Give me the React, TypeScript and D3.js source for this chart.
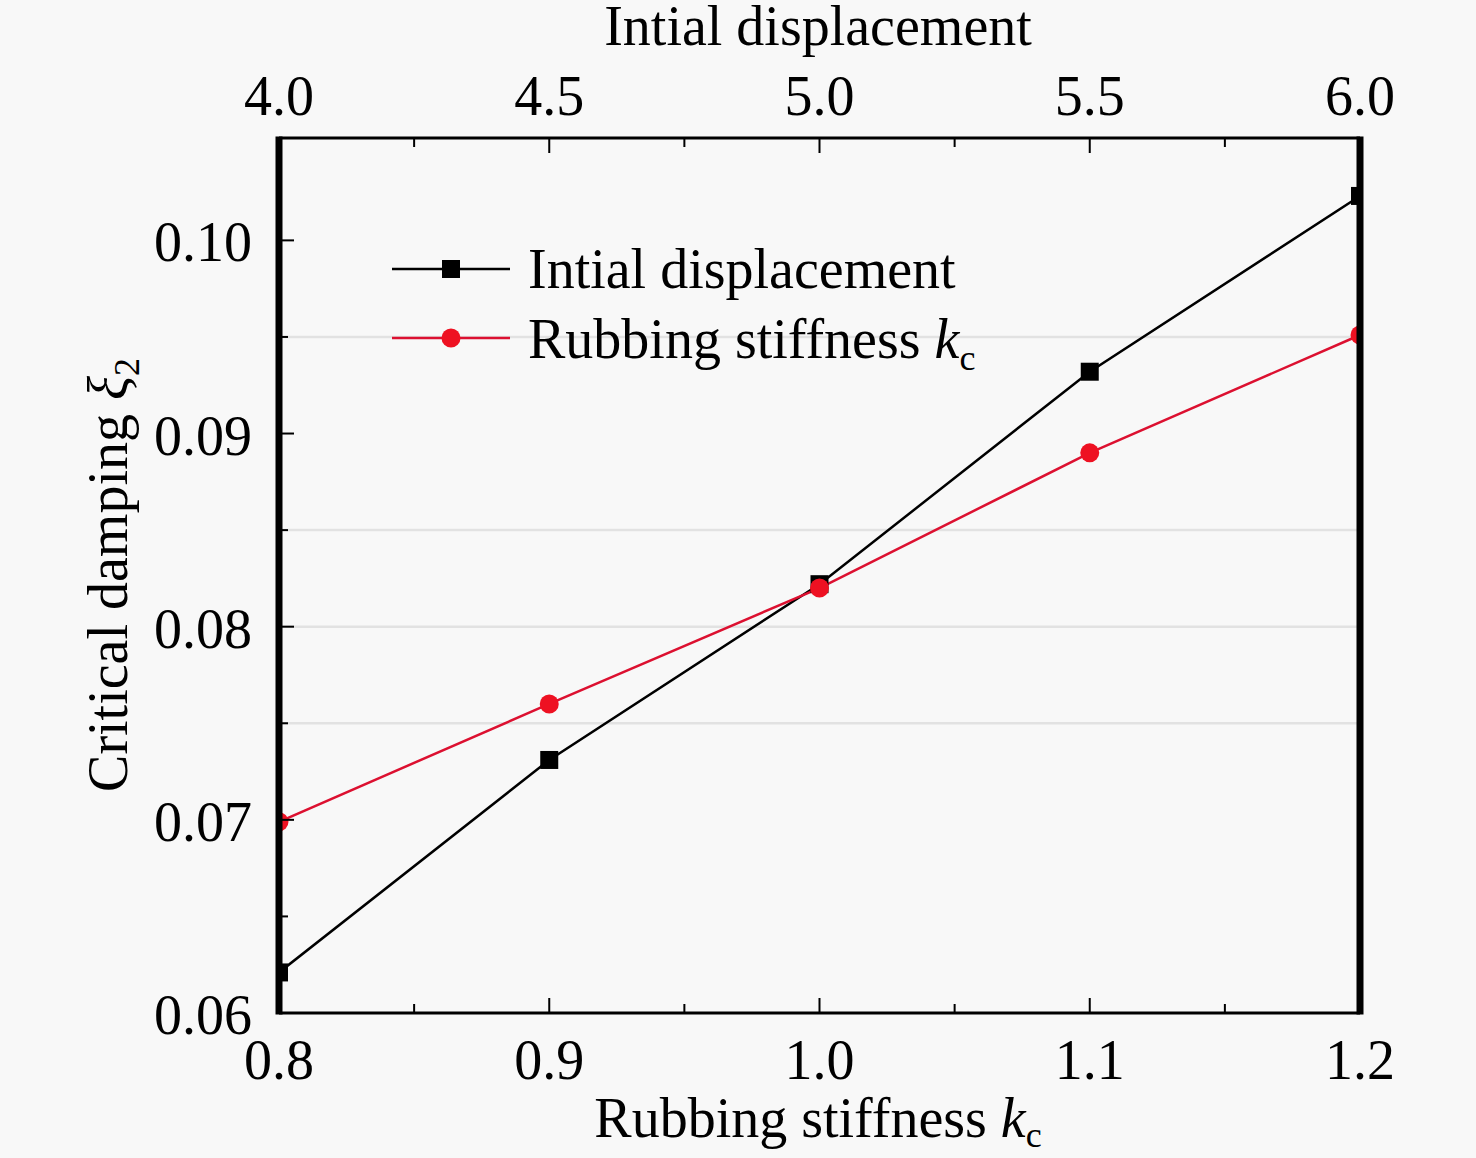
import React from 'react';
import * as d3 from 'd3';

const stiffness = [0.8, 0.9, 1.0, 1.1, 1.2];
const displacementTicks = [4.0, 4.5, 5.0, 5.5, 6.0];
const initialDisplacement = [0.0621, 0.0731, 0.0822, 0.0932, 0.1023];
const rubbingStiffness = [0.0699, 0.076, 0.082, 0.089, 0.0951];
const yTicks = [0.06, 0.07, 0.08, 0.09, 0.1];
const gridValues = [0.075, 0.08, 0.085, 0.095];

const W = 1476;
const H = 1158;
const left = 279;
const right = 1360;
const top = 138;
const bottom = 1013;
const font = '"Liberation Serif", "Times New Roman", serif';
const fs = 56;

const App = () => {
  const x = d3.scaleLinear().domain([0.8, 1.2]).range([left, right]);
  const xTop = d3.scaleLinear().domain([4.0, 6.0]).range([left, right]);
  const y = d3.scaleLinear().domain([0.06, 0.1053]).range([bottom, top]);

  const line = d3
    .line<number>()
    .x((_, i) => x(stiffness[i]))
    .y(d => y(d));

  const xMinor = d3.range(0.85, 1.2, 0.1);
  const topMinor = d3.range(4.25, 6.0, 0.5);
  const yMinor = d3.range(0.065, 0.105, 0.01);

  return (
    <svg
      width={W}
      height={H}
      style={{ position: 'absolute', left: 0, top: 0 }}
      fontFamily={font}>
      <rect width={W} height={H} fill="#f8f8f8" />
      <defs>
        <clipPath id="plot">
          <rect x={left} y={top} width={right - left} height={bottom - top} />
        </clipPath>
      </defs>
      {/* faint grid */}
      {gridValues.map((v, i) => (
        <line key={'g' + i} x1={left} x2={right} y1={y(v)} y2={y(v)} stroke="#e2e2e2" strokeWidth={2.5} />
      ))}
      {/* series */}
      <g clipPath="url(#plot)">
        <path d={line(initialDisplacement) as string} fill="none" stroke="#000" strokeWidth={2.5} />
        <path d={line(rubbingStiffness) as string} fill="none" stroke="#dc1030" strokeWidth={2.5} />
        {initialDisplacement.map((d, i) => (
          <rect key={'s' + i} x={x(stiffness[i]) - 9} y={y(d) - 9} width={18} height={18} fill="#000" />
        ))}
        {rubbingStiffness.map((d, i) => (
          <circle key={'c' + i} cx={x(stiffness[i])} cy={y(d)} r={9.5} fill="#ee1122" />
        ))}
      </g>
      {/* frame */}
      <line x1={left} x2={right} y1={top} y2={top} stroke="#000" strokeWidth={3} />
      <line x1={left} x2={right} y1={bottom} y2={bottom} stroke="#000" strokeWidth={3} />
      <line x1={left} x2={left} y1={top - 1.5} y2={bottom + 1.5} stroke="#000" strokeWidth={7} />
      <line x1={right} x2={right} y1={top - 1.5} y2={bottom + 1.5} stroke="#000" strokeWidth={7} />
      {/* bottom ticks */}
      {stiffness.map(v => (
        <g key={'bx' + v}>
          <line x1={x(v)} x2={x(v)} y1={bottom} y2={bottom - 15} stroke="#000" strokeWidth={2} />
          <text x={x(v)} y={1079} fontSize={fs} textAnchor="middle">{v.toFixed(1)}</text>
        </g>
      ))}
      {xMinor.map(v => (
        <line key={'bm' + v} x1={x(v)} x2={x(v)} y1={bottom} y2={bottom - 9} stroke="#000" strokeWidth={2} />
      ))}
      {/* top ticks */}
      {displacementTicks.map(v => (
        <g key={'tx' + v}>
          <line x1={xTop(v)} x2={xTop(v)} y1={top} y2={top + 15} stroke="#000" strokeWidth={2} />
          <text x={xTop(v)} y={115} fontSize={fs} textAnchor="middle">{v.toFixed(1)}</text>
        </g>
      ))}
      {topMinor.map(v => (
        <line key={'tm' + v} x1={xTop(v)} x2={xTop(v)} y1={top} y2={top + 9} stroke="#000" strokeWidth={2} />
      ))}
      {/* left ticks */}
      {yTicks.map(v => (
        <g key={'ly' + v}>
          <line x1={left} x2={left + 15} y1={y(v)} y2={y(v)} stroke="#000" strokeWidth={2} />
          <text x={252} y={y(v) + 21} fontSize={fs} textAnchor="end">{v.toFixed(2)}</text>
        </g>
      ))}
      {yMinor.map(v => (
        <line key={'lm' + v} x1={left} x2={left + 9} y1={y(v)} y2={y(v)} stroke="#000" strokeWidth={2} />
      ))}
      {/* axis titles */}
      <text x={818} y={45} fontSize={fs} textAnchor="middle">Intial displacement</text>
      <text x={818} y={1137} fontSize={fs} textAnchor="middle">
        Rubbing stiffness <tspan fontStyle="italic">k</tspan>
        <tspan fontSize={36} dy={10}>c</tspan>
      </text>
      <text transform="translate(127,575) rotate(-90)" fontSize={fs} textAnchor="middle">
        Critical damping <tspan fontStyle="italic">ξ</tspan>
        <tspan fontSize={36} dy={12}>2</tspan>
      </text>
      {/* legend */}
      <g>
        <line x1={392} x2={510} y1={269} y2={269} stroke="#000" strokeWidth={2.5} />
        <rect x={442} y={260} width={18} height={18} fill="#000" />
        <text x={528} y={288} fontSize={fs}>Intial displacement</text>
        <line x1={392} x2={510} y1={338} y2={338} stroke="#dc1030" strokeWidth={2.5} />
        <circle cx={451} cy={338} r={9.5} fill="#ee1122" />
        <text x={528} y={358} fontSize={fs}>
          Rubbing stiffness <tspan fontStyle="italic">k</tspan>
          <tspan fontSize={36} dy={12}>c</tspan>
        </text>
      </g>
    </svg>
  );
};

export default App;
